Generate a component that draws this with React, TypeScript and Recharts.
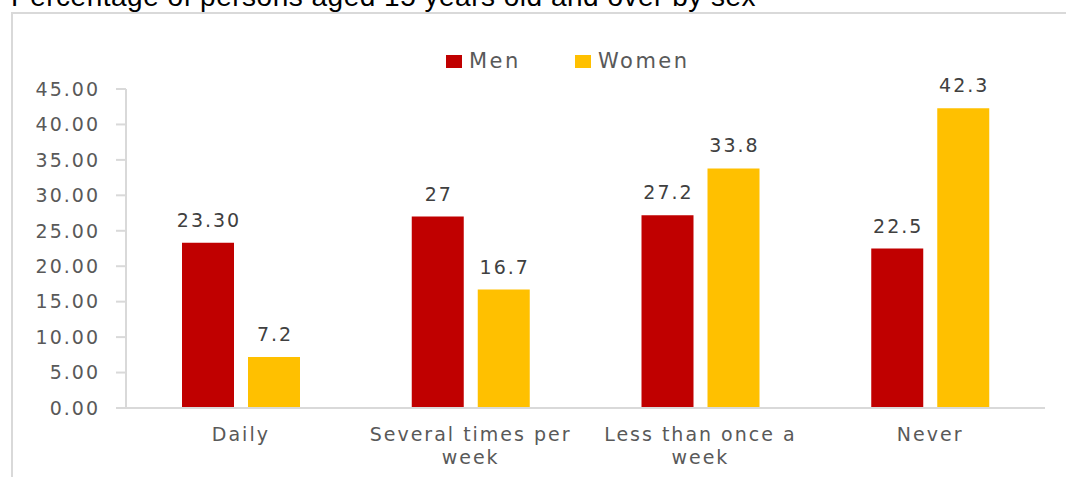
import { Bar, BarChart, LabelList, Legend, XAxis, YAxis } from "recharts";

const TITLE = "Percentage of persons aged 15 years old and over by sex";
const CATEGORIES = ["Daily", "Several times per week", "Less than once a week", "Never"];
const MEN = [23.3, 27, 27.2, 22.5];
const WOMEN = [7.2, 16.7, 33.8, 42.3];
const MEN_LABELS = ["23.30", "27", "27.2", "22.5"];
const WOMEN_LABELS = ["7.2", "16.7", "33.8", "42.3"];
const Y_TICKS = [0, 5, 10, 15, 20, 25, 30, 35, 40, 45];

const MEN_COLOR = "#c00000";
const WOMEN_COLOR = "#ffc000";
const FONT = "'DejaVu Sans', Verdana, sans-serif";
const GRID = "#d9d9d9";

const data = CATEGORIES.map((name, i) => ({
  name,
  men: MEN[i],
  women: WOMEN[i],
  menLabel: MEN_LABELS[i],
  womenLabel: WOMEN_LABELS[i]
}));

function wrapWords(text: string, maxChars: number): string[] {
  const lines: string[] = [];
  let current = "";
  for (const word of text.split(" ")) {
    const next = current ? `${current} ${word}` : word;
    if (next.length > maxChars && current) {
      lines.push(current);
      current = word;
    } else {
      current = next;
    }
  }
  if (current) lines.push(current);
  return lines;
}

function CategoryTick({ x, y, payload }: any) {
  const lines = wrapWords(String(payload.value), 17);
  return (
    <text
      x={x}
      y={y}
      textAnchor="middle"
      fill="#595959"
      fontFamily={FONT}
      fontSize={19}
      letterSpacing={2}
    >
      {lines.map((line, i) => (
        <tspan key={line} x={x} dy={i === 0 ? 25 : 23}>
          {line}
        </tspan>
      ))}
    </text>
  );
}

function BarValue({ x, y, width, value }: any) {
  return (
    <text
      x={x + width / 2 + 1}
      y={y - 16}
      textAnchor="middle"
      fill="#404040"
      fontFamily={FONT}
      fontSize={19}
      letterSpacing={2}
    >
      {value}
    </text>
  );
}

function LegendContent() {
  const items = [
    { label: "Men", color: MEN_COLOR, x: 446 },
    { label: "Women", color: WOMEN_COLOR, x: 575 }
  ];
  return (
    <svg width={1066} height={30} style={{ display: "block" }}>
      {items.map((item) => (
        <g key={item.label}>
          <rect x={item.x} y={6} width={16} height={13} fill={item.color} />
          <text
            x={item.x + 23}
            y={19}
            fill="#595959"
            fontFamily={FONT}
            fontSize={21}
            letterSpacing={2.5}
          >
            {item.label}
          </text>
        </g>
      ))}
    </svg>
  );
}

export default function App() {
  return (
    <div
      style={{
        position: "fixed",
        left: 0,
        top: 0,
        width: 1066,
        height: 477,
        overflow: "hidden",
        background: "#fff"
      }}
    >
      <svg
        width={1066}
        height={20}
        style={{ position: "absolute", left: 0, top: 0, display: "block" }}
      >
        <text
          x={11}
          y={6}
          fontFamily="'Liberation Sans', Arial, sans-serif"
          fontSize={28}
          letterSpacing={0.5}
          fill="#000"
        >
          {TITLE}
        </text>
      </svg>
      <div
        style={{
          position: "absolute",
          left: 11,
          top: 12,
          width: 1100,
          height: 500,
          border: `2px solid ${GRID}`
        }}
      />
      <div style={{ position: "absolute", left: 0, top: 0 }}>
        <BarChart
          width={1066}
          height={477}
          data={data}
          margin={{ top: 89, right: 21, bottom: 0, left: 0 }}
          barSize={52}
          barGap={14}
        >
          <Legend
            verticalAlign="top"
            content={<LegendContent />}
            wrapperStyle={{ position: "absolute", top: 49, left: 0, height: 0, width: 1066 }}
          />
          <XAxis
            dataKey="name"
            height={69}
            tickLine={false}
            axisLine={{ stroke: GRID, strokeWidth: 2 }}
            tick={<CategoryTick />}
            interval={0}
          />
          <YAxis
            width={126}
            domain={[0, 45]}
            ticks={Y_TICKS}
            tickFormatter={(v: number) => v.toFixed(2)}
            axisLine={{ stroke: GRID, strokeWidth: 2 }}
            tickLine={{ stroke: GRID, strokeWidth: 2 }}
            tickSize={10}
            tickMargin={16}
            tick={{ fill: "#595959", fontFamily: FONT, fontSize: 19, letterSpacing: 2 }}
          />
          <Bar dataKey="men" name="Men" fill={MEN_COLOR} isAnimationActive={false}>
            <LabelList dataKey="menLabel" content={<BarValue />} />
          </Bar>
          <Bar dataKey="women" name="Women" fill={WOMEN_COLOR} isAnimationActive={false}>
            <LabelList dataKey="womenLabel" content={<BarValue />} />
          </Bar>
        </BarChart>
      </div>
    </div>
  );
}
